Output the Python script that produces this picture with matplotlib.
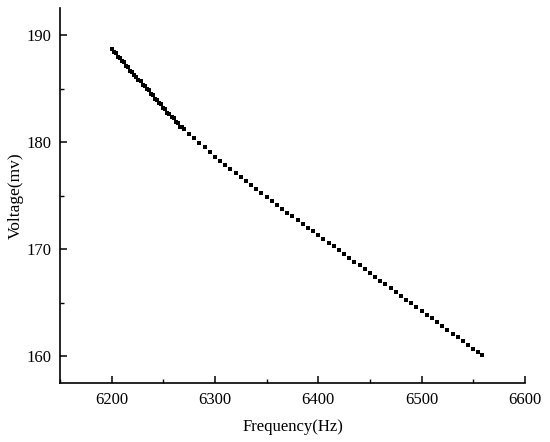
import matplotlib
matplotlib.use("Agg")
import matplotlib.pyplot as plt
from matplotlib.ticker import MultipleLocator

plt.rcParams['font.family'] = ['Liberation Serif', 'DejaVu Serif']

freq = [6200, 6202, 6204, 6206, 6208, 6210, 6212, 6214, 6216, 6218,
        6220, 6222, 6224, 6226, 6228, 6230, 6232, 6234, 6236, 6238,
        6240, 6242, 6244, 6246, 6248, 6250, 6252, 6254, 6256, 6258,
        6260, 6262, 6264, 6266, 6268,
        6270, 6275, 6280, 6285, 6290, 6295, 6300, 6305, 6310, 6315,
        6320, 6325, 6330, 6335, 6340, 6345, 6350, 6355, 6360, 6365,
        6370, 6375, 6380, 6385, 6390, 6395, 6400, 6405, 6410, 6415,
        6420, 6425, 6430, 6435, 6440, 6445, 6450, 6455, 6460, 6465,
        6470, 6475, 6480, 6485, 6490, 6495, 6500, 6505, 6510, 6515,
        6520, 6525, 6530, 6535, 6540, 6545, 6550, 6555, 6558]

voltage = [188.75, 188.45, 188.30, 188.00, 187.88, 187.56, 187.45, 187.12, 187.02, 186.68,
           186.58, 186.24, 186.14, 185.82, 185.72, 185.37, 185.28, 184.93, 184.85, 184.50,
           184.40, 184.06, 183.97, 183.62, 183.53, 183.19, 183.10, 182.75, 182.66, 182.32,
           182.22, 181.88, 181.78, 181.46, 181.38,
           181.20, 180.78, 180.39, 179.95, 179.52, 179.08, 178.65, 178.22, 177.85, 177.48,
           177.10, 176.73, 176.36, 175.99, 175.63, 175.26, 174.89, 174.52, 174.15, 173.80,
           173.44, 173.09, 172.74, 172.39, 172.03, 171.68, 171.33, 170.97, 170.62, 170.27,
           169.92, 169.56, 169.21, 168.86, 168.50, 168.15, 167.80, 167.44, 167.07, 166.72,
           166.37, 166.01, 165.66, 165.31, 164.96, 164.60, 164.25, 163.90, 163.55, 163.20,
           162.84, 162.49, 162.14, 161.78, 161.43, 161.08, 160.73, 160.37, 160.16]

x_ticks = [6200, 6300, 6400, 6500, 6600]
y_ticks = [160, 170, 180, 190]

fig = plt.figure(figsize=(5.5, 4.42), dpi=100)
ax = fig.add_axes([0.109, 0.133, 0.8455, 0.848])
ax.plot(freq, voltage, linestyle='none', marker='s', markersize=2.3,
        color='black', markeredgewidth=0)

ax.set_xlim(6150, 6600)
ax.set_ylim(157.5, 192.5)
ax.set_xticks(x_ticks)
ax.set_yticks(y_ticks)
ax.xaxis.set_minor_locator(MultipleLocator(50))
ax.yaxis.set_minor_locator(MultipleLocator(5))
ax.tick_params(which='major', direction='in', length=5, width=1.1,
               labelsize=12, pad=6)
ax.tick_params(which='minor', direction='in', length=2.8, width=1.0)
ax.spines['top'].set_visible(False)
ax.spines['right'].set_visible(False)
for s in ['left', 'bottom']:
    ax.spines[s].set_linewidth(1.2)

ax.set_xlabel('Frequency(Hz)', fontsize=12, labelpad=8)
ax.set_ylabel('Voltage(mv)', fontsize=12.5, labelpad=2)

fig.savefig('out.png', dpi=100)
